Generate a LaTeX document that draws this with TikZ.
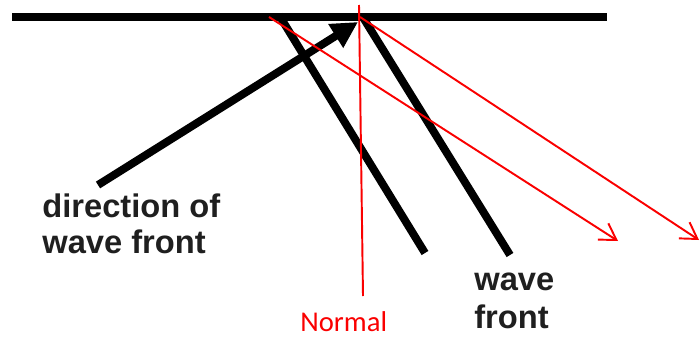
\documentclass[tikz,border=0pt]{standalone}
\usepackage{fontspec}
\setmainfont{Liberation Sans}
\newfontfamily\normalfnt{Carlito}
\usepackage{xcolor}
\usetikzlibrary{arrows.meta, positioning}
\definecolor{normalred}{RGB}{250, 0, 0}

\begin{document}
\begin{tikzpicture}[x=0.02cm, y=-0.02cm,
        thickline/.style={line width=4.5pt, black},
        rayline/.style={line width=1.1pt, normalred},
        label/.style={font=\fontsize{18.6}{20.4}\selectfont\bfseries, text=black!88, align=left, inner sep=0pt}]
            \useasboundingbox (0,0) rectangle (699,338);
            % surface
            \coordinate (surfL) at (12,17);
            \coordinate (surfR) at (607,17);
            \draw[thickline] (surfL) -- (surfR);
            % direction arrow
            \coordinate (dirA) at (98,185);
            \coordinate (dirB) at (358,22);
            \draw[thickline, -{Triangle[length=15pt,width=15pt]}] (dirA) -- (dirB);
            % wave fronts
            \coordinate (wfA1) at (279,15);
            \coordinate (wfA2) at (425,253);
            \coordinate (wfB1) at (364,19);
            \coordinate (wfB2) at (510,255);
            \draw[thickline] (wfA1) -- (wfA2);
            \draw[thickline] (wfB1) -- (wfB2);
            % normal and rays
            \coordinate (nrmTop) at (359,5);
            \coordinate (nrmBot) at (363,296);
            \coordinate (rayA1) at (269,17);
            \coordinate (rayA2) at (618,241);
            \coordinate (rayB1) at (360,17);
            \coordinate (rayB2) at (699,240);
            \draw[rayline] (nrmTop) -- (nrmBot);
            \draw[rayline, -{Straight Barb[length=9pt,width=11pt]}] (rayA1) -- (rayA2);
            \draw[rayline, -{Straight Barb[length=9pt,width=11pt]}] (rayB1) -- (rayB2);
            % labels (base = last line)
            \node[label, anchor=base west] (dirtext) at (42,253) {direction of\\wave front};
            \node[label, anchor=base west] (wftext) at (474,328) {wave\\[1pt]front};
            \node[anchor=base west, inner sep=0pt, text=normalred,
                  font=\normalfnt\fontsize{16.3}{18}\selectfont] (nrmtext) at (300,331) {Normal};
        \end{tikzpicture}
\end{document}
